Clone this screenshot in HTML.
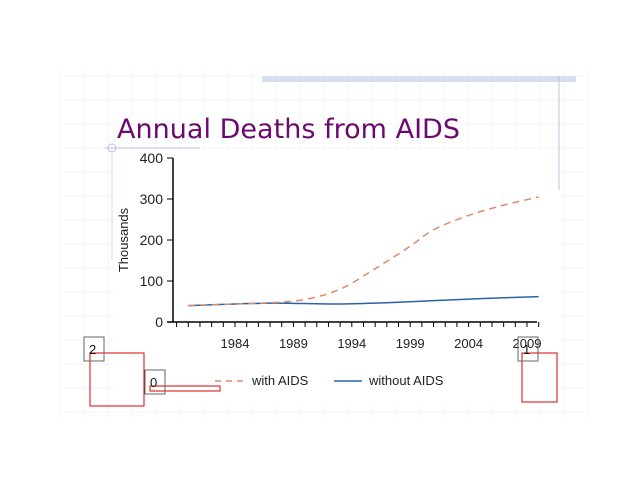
<!DOCTYPE html>
<html><head><meta charset="utf-8"><style>
body{margin:0;background:#fff;}
svg{display:block;font-family:"Liberation Sans",sans-serif;}
</style></head><body>
<svg width="640" height="480">
<g id="grid" stroke="#f4f5f9" stroke-width="1"></g>
<rect x="115" y="150" width="445" height="255" fill="#fff"/>
<rect x="262" y="76" width="314" height="6" fill="#d6def0"/>
<line x1="559" y1="76" x2="559" y2="190" stroke="#b8c2e0"/>
<line x1="105" y1="148" x2="200" y2="148" stroke="#b8c2e0"/>
<line x1="112" y1="148" x2="112" y2="260" stroke="#d0d8ee"/>
<circle cx="112" cy="148" r="4" fill="none" stroke="#b8c2e0"/>
<text x="117" y="138" font-size="27" fill="#6a0a6e" font-family="DejaVu Sans, sans-serif" textLength="343">Annual Deaths from AIDS</text>
<g id="plot"></g>
<g>
<line x1="215" y1="381" x2="247" y2="381" stroke="#e08a68" stroke-width="1.5" stroke-dasharray="6,5"/>
<text x="252" y="385" font-size="13" fill="#222">with AIDS</text>
<line x1="334" y1="381" x2="362" y2="381" stroke="#2a64a8" stroke-width="1.5"/>
<text x="369" y="385" font-size="13" fill="#222">without AIDS</text>
</g>
<g fill="none" stroke="#d00" stroke-width="1">
<rect x="90" y="353" width="54" height="53"/>
<rect x="150" y="386" width="70" height="5"/>
<rect x="522" y="353" width="35" height="49"/>
</g>
<g fill="none" stroke="#666" stroke-width="1">
<rect x="84" y="337" width="20" height="24"/>
<rect x="145" y="370" width="20" height="24"/>
<rect x="518" y="337" width="20" height="24"/>
</g>
<text x="89" y="354" font-size="13" fill="#111">2</text>
<text x="150" y="387" font-size="13" fill="#111">0</text>
<text x="523" y="354" font-size="13" fill="#111">1</text>
</svg>
<script>
const years=[1980,1983,1987,1990,1993,1996,1999,2001,2004,2007,2010];
const withAids=[40,43,47,55,80,130,185,225,260,285,305];
const blueYears=[1980,1983,1987,1990,1993,1997,2001,2005,2010];
const withoutAids=[40,43,46,45,44,47,52,57,62];
const yTicks=[0,100,200,300,400];
const xTickLabels=[1984,1989,1994,1999,2004,2009];
const NS="http://www.w3.org/2000/svg";
const X=y=>235+(y-1984)*11.68, Y=v=>322-v*0.41;
const g=document.getElementById('grid');
for(let x=60;x<600;x+=24){const l=document.createElementNS(NS,'line');l.setAttribute('x1',x);l.setAttribute('x2',x);l.setAttribute('y1',70);l.setAttribute('y2',420);g.appendChild(l);}
for(let y=76;y<420;y+=24){const l=document.createElementNS(NS,'line');l.setAttribute('x1',60);l.setAttribute('x2',590);l.setAttribute('y1',y);l.setAttribute('y2',y);g.appendChild(l);}
const p=document.getElementById('plot');
function add(tag,attrs,txt){const e=document.createElementNS(NS,tag);for(const k in attrs)e.setAttribute(k,attrs[k]);if(txt!==undefined)e.textContent=txt;p.appendChild(e);return e;}
let e=add('line',{x1:173,y1:Y(400),x2:173,y2:Y(0),stroke:'#000','stroke-width':1.5});


e=add('line',{x1:167,y1:Y(0),x2:537,y2:Y(0),stroke:'#000','stroke-width':1.5});


yTicks.forEach(v=>{add('line',{x1:167,x2:173,y1:Y(v),y2:Y(v),stroke:'#000'});
 e=add('text',{x:163,y:Y(v)+5,'font-size':14,'text-anchor':'end',fill:'#222'},v);
 
 });
for(let yr=1979;yr<=2010;yr++){const xx=X(yr);add('line',{x1:xx,x2:xx,y1:Y(0),y2:Y(0)+5,stroke:'#000'});}
xTickLabels.forEach(v=>{e=add('text',{x:X(v),y:348,'font-size':13,'text-anchor':'middle',fill:'#222'},v);
 
 });
e=add('text',{x:128,y:240,'font-size':13,'text-anchor':'middle',fill:'#222',transform:'rotate(-90 128 240)'},'Thousands');


function path(xs,vs){const pts=xs.map((x,i)=>[X(x),Y(vs[i])]);
 let d='M'+pts[0];for(let i=0;i<pts.length-1;i++){const p0=pts[i-1]||pts[i],p1=pts[i],p2=pts[i+1],p3=pts[i+2]||p2;
 d+=' C'+(p1[0]+(p2[0]-p0[0])/6)+','+(p1[1]+(p2[1]-p0[1])/6)+' '+(p2[0]-(p3[0]-p1[0])/6)+','+(p2[1]-(p3[1]-p1[1])/6)+' '+p2;}return d;}
e=add('path',{d:path(blueYears,withoutAids),fill:'none',stroke:'#2a64a8','stroke-width':1.5});


e=add('path',{d:path(years,withAids),fill:'none',stroke:'#e08a68','stroke-width':1.5,'stroke-dasharray':'7,5'});


</script>
</body></html>
